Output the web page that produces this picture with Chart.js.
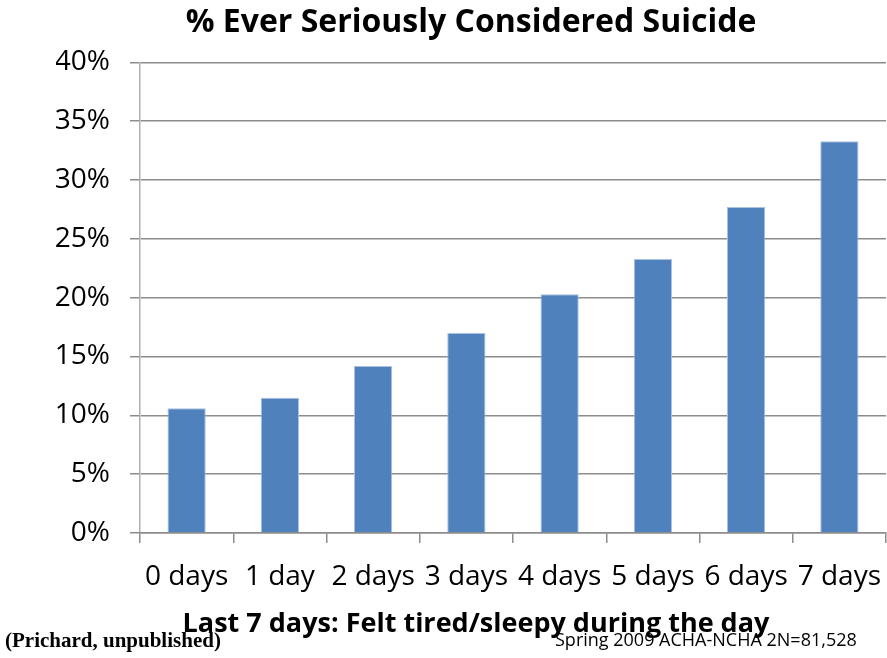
<!DOCTYPE html>
<html>
<head>
<meta charset="utf-8">
<script src="https://cdn.jsdelivr.net/npm/chart.js@4.4.1/dist/chart.umd.min.js"></script>
<style>
  html, body { margin: 0; padding: 0; background: #fff; }
  #wrap { position: relative; width: 887px; height: 658px; }
  #xTitle { position: absolute; left: 0; width: 952px; text-align: center; top: 606px; font-family: "Open Sans", sans-serif; font-weight: bold; font-size: 27px; line-height: 32px; color: #000; }
  #source { position: absolute; left: 5px; top: 628px; font-family: "Liberation Serif", serif; font-weight: bold; font-size: 21px; line-height: 24px; color: #000; }
  #sample { position: absolute; left: 555px; top: 628px; font-family: "Open Sans", sans-serif; font-size: 18px; line-height: 22px; color: #000; }
</style>
</head>
<body>
<div id="wrap">
  <canvas id="sleepChart" width="887" height="658"></canvas>
  <div id="xTitle">Last 7 days: Felt tired/sleepy during the day</div>
  <div id="source">(Prichard, unpublished)</div>
  <div id="sample">Spring 2009 ACHA-NCHA 2N=81,528</div>
</div>
<script>
// data
const dayLabels = ["0 days", "1 day", "2 days", "3 days", "4 days", "5 days", "6 days", "7 days"];
const suicidePct = [10.6, 11.5, 14.2, 17.0, 20.3, 23.3, 27.7, 33.3];
const yTicks = [0, 5, 10, 15, 20, 25, 30, 35, 40];

const canvas = document.getElementById('sleepChart');
const ctx = canvas.getContext('2d');

const chart = new Chart(ctx, {
  type: 'bar',
  data: {
    labels: dayLabels,
    datasets: [{
      data: suicidePct,
      backgroundColor: '#4F81BD',
      borderColor: '#A9C0E0',
      borderWidth: 1,
      categoryPercentage: 1,
      barPercentage: 0.41
    }]
  },
  options: {
    responsive: false,
    animation: false,
    layout: { padding: { top: 0, right: 1, bottom: 17, left: 56 } },
    plugins: {
      legend: { display: false },
      tooltip: { enabled: false },
      title: {
        display: true,
        text: '% Ever Seriously Considered Suicide',
        color: '#000',
        font: { family: 'Open Sans', size: 32, weight: 'bold' },
        padding: { top: 4, bottom: 20 }
      }
    },
    scales: {
      y: {
        min: 0,
        max: 40,
        afterFit: function(scale) { scale.width = 84; },
        afterBuildTicks: function(scale) {
          scale.ticks = yTicks.map(v => ({ value: v }));
        },
        ticks: {
          color: '#000',
          padding: 20,
          font: { family: 'Open Sans', size: 28 },
          callback: v => v + '%'
        },
        grid: { color: '#8c8c8c', lineWidth: 1.5, tickLength: 10 },
        border: { color: '#b0b0b0', width: 1.5 }
      },
      x: {
        afterFit: function(scale) {
          scale.height = 108;
          scale.paddingLeft = 0;
          scale.paddingRight = 0;
        },
        ticks: {
          color: '#000',
          padding: 17,
          font: { family: 'Open Sans', size: 28 }
        },
        grid: {
          drawOnChartArea: false,
          offset: true,
          color: '#8c8c8c',
          lineWidth: 1.5,
          tickLength: 10
        },
        border: { color: '#8c8c8c', width: 1.5 }
      }
    }
  }
});
</script>
</body>
</html>
